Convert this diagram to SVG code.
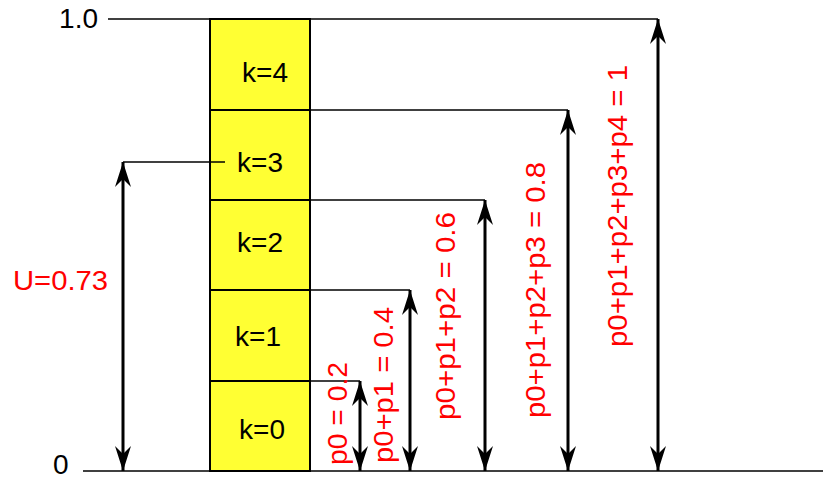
<svg xmlns="http://www.w3.org/2000/svg" width="823" height="480" viewBox="0 0 823 480">
  <style>
    text { font-family: "Liberation Sans", Arial, sans-serif; font-size: 28px; }
    .k { fill: #000; }
    .red { fill: #ff0000; }
    .cell { fill: #ffff33; stroke: #000; stroke-width: 2; }
    .guide { stroke: #000; stroke-width: 1.5; fill: none; }
    .arrow { stroke: #000; stroke-width: 3; fill: none; marker-start: url(#head); marker-end: url(#head); }
  </style>
  <defs>
    <marker id="head" markerUnits="userSpaceOnUse" markerWidth="30" markerHeight="20" viewBox="-26 -10 30 20" refX="0" refY="0" orient="auto-start-reverse">
      <path d="M0,0 L-25,-8 L-17,0 L-25,8 Z" fill="#000"/>
    </marker>
  </defs>

  <!-- axis lines -->
  <g id="axes">
    <line class="guide" x1="108" y1="19" x2="658" y2="19"/>
    <line class="guide" x1="83" y1="471" x2="823" y2="471"/>
    <text x="98" y="28" text-anchor="end" class="k">1.0</text>
    <text x="53" y="474" class="k">0</text>
  </g>

  <!-- stacked cells k=0..4 -->
  <g id="cell-k4"><rect class="cell" x="210" y="19" width="100" height="91"/><text x="265" y="82" text-anchor="middle" class="k">k=4</text></g>
  <g id="cell-k3"><rect class="cell" x="210" y="110" width="100" height="90"/><text x="260" y="172" text-anchor="middle" class="k">k=3</text></g>
  <g id="cell-k2"><rect class="cell" x="210" y="200" width="100" height="90"/><text x="260" y="252" text-anchor="middle" class="k">k=2</text></g>
  <g id="cell-k1"><rect class="cell" x="210" y="290" width="100" height="91"/><text x="258" y="346" text-anchor="middle" class="k">k=1</text></g>
  <g id="cell-k0"><rect class="cell" x="210" y="381" width="100" height="90"/><text x="262" y="439" text-anchor="middle" class="k">k=0</text></g>

  <!-- connectors: level lines and cumulative arrows -->
  <g id="connectors">
    <line class="guide" x1="123" y1="162" x2="225" y2="162"/>
    <line class="guide" x1="310" y1="110" x2="568" y2="110"/>
    <line class="guide" x1="310" y1="200" x2="485" y2="200"/>
    <line class="guide" x1="310" y1="290" x2="410" y2="290"/>
    <line class="guide" x1="310" y1="381" x2="360" y2="381"/>

    <line class="arrow" x1="123" y1="162" x2="123" y2="471"/>
    <line class="arrow" x1="360" y1="381" x2="360" y2="471"/>
    <line class="arrow" x1="410" y1="290" x2="410" y2="471"/>
    <line class="arrow" x1="485" y1="200" x2="485" y2="471"/>
    <line class="arrow" x1="568" y1="110" x2="568" y2="471"/>
    <line class="arrow" x1="658" y1="19" x2="658" y2="471"/>
  </g>

  <!-- labels -->
  <g id="labels">
    <text x="13" y="290" class="red" textLength="95" lengthAdjust="spacingAndGlyphs">U=0.73</text>
    <text transform="translate(347,465) rotate(-90)" class="red" textLength="103" lengthAdjust="spacingAndGlyphs">p0 = 0.2</text>
    <text transform="translate(393,463) rotate(-90)" class="red" textLength="156" lengthAdjust="spacingAndGlyphs">p0+p1 = 0.4</text>
    <text transform="translate(455,420) rotate(-90)" class="red" textLength="208" lengthAdjust="spacingAndGlyphs">p0+p1+p2 = 0.6</text>
    <text transform="translate(545,418) rotate(-90)" class="red" textLength="256" lengthAdjust="spacingAndGlyphs">p0+p1+p2+p3 = 0.8</text>
    <text transform="translate(627,347) rotate(-90)" class="red" textLength="282" lengthAdjust="spacingAndGlyphs">p0+p1+p2+p3+p4 = 1</text>
  </g>
</svg>
